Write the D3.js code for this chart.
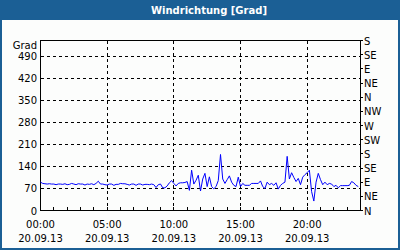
<!DOCTYPE html>
<html>
<head>
<meta charset="utf-8">
<script src="https://cdn.jsdelivr.net/npm/d3@7"></script>
<style>
  body { margin: 0; background: #fff; }
  svg text { font-family: "DejaVu Sans", sans-serif; font-size: 10px; fill: #000; }
</style>
</head>
<body>
<div id="chart"></div>
<script>
// wind direction, 10 minute values from 20.09.13 00:00
var startTime = "2013-09-20 00:00";
var stepMinutes = 10;
var values = [
  90, 86, 85, 84, 85, 84, 84, 82, 84, 84, 83, 85, 82, 83, 86, 84, 82, 85, 84, 84,
  81, 84, 83, 85, 82, 86, 93, 84, 84, 82, 81, 84, 84, 80, 83, 83, 86, 85, 85, 83,
  81, 84, 84, 80, 84, 84, 81, 83, 83, 82, 84, 82, 73, 82, 84, 72, 72, 78, 88, 95,
  86, 78, 86, 88, 88, 89, 92, 64, 128, 84, 96, 112, 62, 100, 118, 76, 107, 76, 69, 76,
  95, 178, 100, 86, 98, 110, 90, 80, 76, 106, 76, 86, 80, 80, 80, 86, 86, 86, 86, 94,
  76, 70, 90, 82, 86, 80, 88, 68, 80, 86, 90, 172, 100, 120, 105, 92, 102, 82, 106, 114,
  120, 128, 60, 30, 90, 118, 98, 82, 90, 82, 86, 84, 76, 80, 72, 79, 79, 79, 79, 80,
  92, 88, 80, 76
];
var leftTicks = [0, 70, 140, 210, 280, 350, 420, 490];
var rightTicks = [0, 45, 90, 135, 180, 225, 270, 315, 360, 405, 450, 495, 540];
var rightLabels = ["N", "NE", "E", "SE", "S", "SW", "W", "NW", "N", "NE", "E", "SE", "S"];
var majorHours = [0, 5, 10, 15, 20];

var width = 400, height = 250;
var blue = "#1b5f95";

var svg = d3.select("#chart").append("svg")
  .attr("width", width)
  .attr("height", height);

// frame + title bar
svg.append("rect").attr("x", 1).attr("y", 1).attr("width", width - 2).attr("height", height - 2)
  .attr("fill", "#fcfdfc").attr("stroke", blue).attr("stroke-width", 2);
svg.append("rect").attr("x", 0).attr("y", 0).attr("width", width).attr("height", 20).attr("fill", blue);
svg.append("text")
  .attr("x", 209).attr("y", 14)
  .attr("text-anchor", "middle")
  .style("font-weight", "bold")
  .style("fill", "#fff")
  .text("Windrichtung [Grad]");

var parse = d3.timeParse("%Y-%m-%d %H:%M");
var t0 = parse(startTime);
var t1 = d3.timeDay.offset(t0, 1);
var data = values.map(function(v, i) {
  return { t: d3.timeMinute.offset(t0, i * stepMinutes), v: v };
});

var x = d3.scaleTime().domain([t0, t1]).range([40.5, 360.5]);
var y = d3.scaleLinear().domain([0, 540]).range([210.5, 40.5]);

// dashed grid
svg.append("g").selectAll("line")
  .data(leftTicks.filter(function(d) { return d > 0; }))
  .enter().append("line")
  .attr("x1", 41).attr("x2", 360)
  .attr("y1", function(d) { return Math.round(y(d) - 0.5) + 0.5; })
  .attr("y2", function(d) { return Math.round(y(d) - 0.5) + 0.5; })
  .attr("stroke", "#000").attr("stroke-dasharray", "3,3");

svg.append("g").selectAll("line")
  .data(majorHours.filter(function(d) { return d > 0; }))
  .enter().append("line")
  .attr("x1", function(d) { return Math.round(x(d3.timeHour.offset(t0, d)) - 0.5) + 0.5; })
  .attr("x2", function(d) { return Math.round(x(d3.timeHour.offset(t0, d)) - 0.5) + 0.5; })
  .attr("y1", 41).attr("y2", 210)
  .attr("stroke", "#000").attr("stroke-dasharray", "3,3");

// plot box
svg.append("rect")
  .attr("x", 40.5).attr("y", 40.5).attr("width", 320).attr("height", 170)
  .attr("fill", "none").attr("stroke", "#000");

// hourly ticks on bottom axis (pointing up)
svg.append("g").selectAll("line")
  .data(d3.timeHour.range(t0, t1))
  .enter().append("line")
  .attr("x1", function(d) { return Math.round(x(d) - 0.5) + 0.5; })
  .attr("x2", function(d) { return Math.round(x(d) - 0.5) + 0.5; })
  .attr("y1", 207).attr("y2", 210)
  .attr("stroke", "#000");

// left labels
svg.append("g").selectAll("text")
  .data(leftTicks)
  .enter().append("text")
  .attr("x", 37)
  .attr("y", function(d) { return y(d) + 4; })
  .attr("text-anchor", "end")
  .text(function(d) { return d; });
svg.append("text").attr("x", 37).attr("y", 49).attr("text-anchor", "end").text("Grad");

// right axis: compass
svg.append("g").selectAll("line")
  .data(rightTicks)
  .enter().append("line")
  .attr("x1", 360).attr("x2", 363)
  .attr("y1", function(d) { return Math.round(y(d) - 0.5) + 0.5; })
  .attr("y2", function(d) { return Math.round(y(d) - 0.5) + 0.5; })
  .attr("stroke", "#000");
svg.append("g").selectAll("text")
  .data(rightTicks)
  .enter().append("text")
  .attr("x", 364)
  .attr("y", function(d) { return y(d) + 4; })
  .text(function(d, i) { return rightLabels[i]; });

// bottom labels
var fmtTime = d3.timeFormat("%H:%M"), fmtDate = d3.timeFormat("%d.%m.%y");
var xl = svg.append("g").selectAll("g")
  .data(majorHours.map(function(h) { return d3.timeHour.offset(t0, h); }))
  .enter().append("g");
xl.append("text")
  .attr("x", function(d) { return x(d); }).attr("y", 228)
  .attr("text-anchor", "middle").text(fmtTime);
xl.append("text")
  .attr("x", function(d) { return x(d); }).attr("y", 242)
  .attr("text-anchor", "middle").text(fmtDate);

// series
var line = d3.line()
  .x(function(d) { return x(d.t); })
  .y(function(d) { return y(d.v); });
svg.append("path")
  .datum(data)
  .attr("d", line)
  .attr("fill", "none")
  .attr("stroke", "#0000ff")
  .attr("stroke-width", 1);
</script>
</body>
</html>
